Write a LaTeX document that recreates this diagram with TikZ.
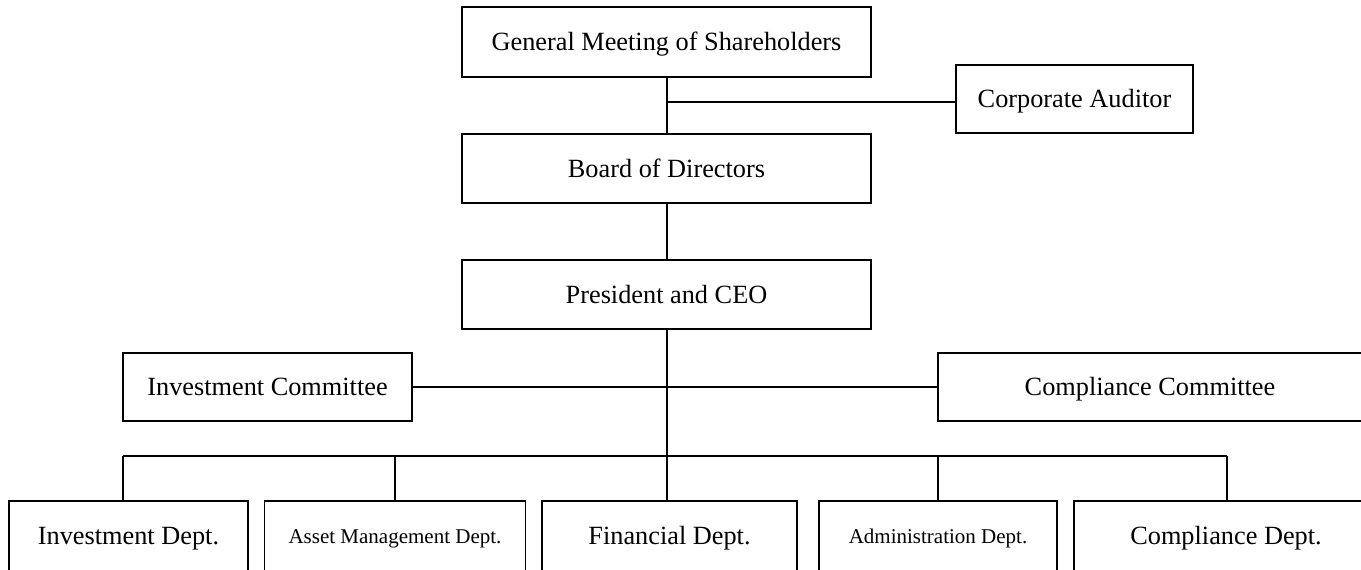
\documentclass[tikz,border=0pt]{standalone}
\usepackage{fontspec}
\setmainfont{Liberation Serif}
\begin{document}
\begin{tikzpicture}[x=1pt,y=-1pt,
  box/.style={draw=black,line width=1.5pt,rectangle,inner sep=0pt,
    text height=17.9pt,text depth=0pt,
    font=\fontsize{26.3}{30}\selectfont},
  smallbox/.style={box,text height=14.3pt,font=\fontsize{21}{25}\selectfont},
  conn/.style={draw=black,line width=1.5pt}]
\useasboundingbox (0,0) rectangle (1361,570);
% top chain
\node[box,minimum width=409pt,minimum height=70pt] (gms) at (666.5,42) {General Meeting of Shareholders};
\node[box,minimum width=237pt,minimum height=68pt] (aud) at (1074.5,99) {Corporate Auditor};
\node[box,minimum width=409pt,minimum height=69pt] (board) at (666.5,168.5) {Board of Directors};
\node[box,minimum width=409pt,minimum height=69pt] (pres) at (666.5,294.5) {President and CEO};
% committees
\node[box,minimum width=289pt,minimum height=68pt] (invc) at (267.5,387) {Investment Committee};
\node[box,minimum width=424pt,minimum height=68pt] (compc) at (1150,387) {Compliance Committee};
% departments
\node[box,minimum width=239pt,minimum height=70pt] (invd) at (128.5,536) {Investment Dept.};
\node[smallbox,minimum width=261pt,minimum height=70pt] (asset) at (395,536) {Asset Management Dept.};
\node[box,minimum width=255pt,minimum height=70pt] (fin) at (669.5,536) {Financial Dept.};
\node[smallbox,minimum width=238pt,minimum height=70pt] (adm) at (938,536) {Administration Dept.};
\node[box,minimum width=304pt,minimum height=70pt] (compd) at (1226,536) {Compliance Dept.};
% coordinates
\coordinate (spine) at (667,102);
\coordinate (busL) at (123,456);
\coordinate (busR) at (1227,456);
% connectors
\draw[conn] (spine |- gms.south) -- (spine |- board.north);
\draw[conn] (spine) -- (spine -| aud.west);
\draw[conn] (spine |- board.south) -- (spine |- pres.north);
\draw[conn] (spine |- pres.south) -- (spine |- fin.north);
\draw[conn] (invc.east) -- (compc.west);
\draw[conn] (busL) -- (busR);
\draw[conn] (busL) -- (busL |- invd.north);
\draw[conn] (asset.north |- busL) -- (asset.north);
\draw[conn] (adm.north |- busL) -- (adm.north);
\draw[conn] (busR) -- (busR |- compd.north);
\end{tikzpicture}
\end{document}
